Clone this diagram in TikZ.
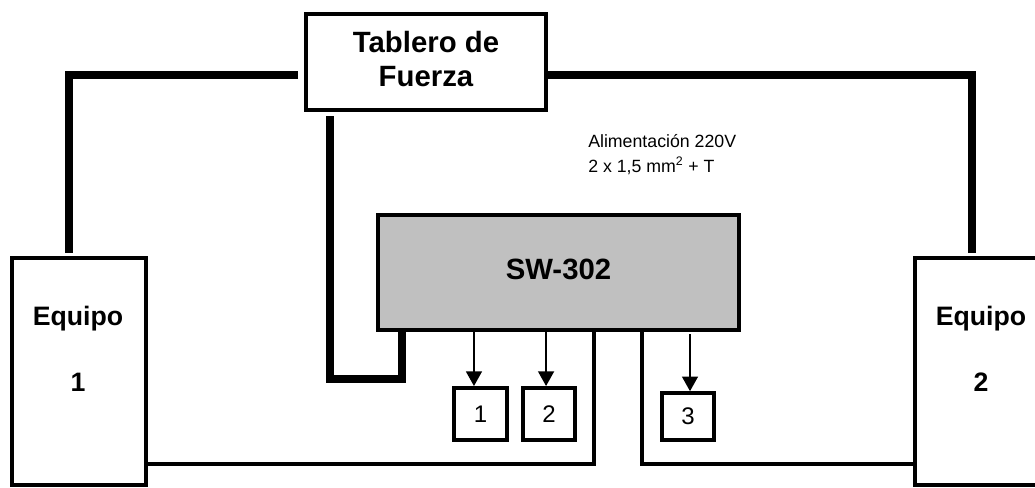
\documentclass[tikz,border=0pt]{standalone}
\usepackage{fontspec}
\setmainfont{Liberation Sans}
\usepackage{tikz}
\usetikzlibrary{positioning,arrows.meta}
\definecolor{swgray}{HTML}{C0C0C0}
\tikzset{
  bigbox/.style={draw=black, line width=3pt, fill=white},
  bigtext/.style={align=center, inner sep=0pt, font=\bfseries\fontsize{22}{25.5}\selectfont},
  equipobox/.style={draw=black, line width=2.7pt, minimum width=100.5pt, minimum height=170pt},
  equipotext/.style={align=center, inner sep=0pt, font=\bfseries\fontsize{20}{24}\selectfont},
  portbox/.style={draw=black, line width=3pt, inner sep=0pt, font=\fontsize{18}{20}\selectfont},
  heavyline/.style={black, line width=6pt},
  wireline/.style={black, line width=2.4pt},
  portarrow/.style={black, line width=1.1pt, -{Triangle[length=11pt,width=12pt]}}
}
\begin{document}
\begin{tikzpicture}[x=0.75pt,y=-0.75pt]
\useasboundingbox (0,0) rectangle (1035,487);
\node[bigbox, minimum width=180pt, minimum height=72pt] (tablero) at (426,62) {};
\node[bigtext] (tablerotext) at ([yshift=2.25pt]tablero.center) {Tablero de\\Fuerza};
\node[bigbox, fill=swgray, minimum width=270.75pt, minimum height=86.25pt] (sw) at (558.5,272.5) {};
\node[bigtext] (swtext) at ([yshift=2.25pt]sw.center) {SW-302};
\node[equipobox] (equipoa) at (79,371.5) {};
\node[equipobox] (equipob) at (982,371.5) {};
\node[equipotext, anchor=north] (equipoatext) at ([xshift=-0.75pt,yshift=-37pt]equipoa.north) {Equipo\\[26pt]1};
\node[equipotext, anchor=north] (equipobtext) at ([xshift=-0.75pt,yshift=-37pt]equipob.north) {Equipo\\[26pt]2};
\node[portbox, minimum width=39.5pt, minimum height=39pt] (porta) at (480.5,414) {1};
\node[portbox, minimum width=39.5pt, minimum height=39pt] (portb) at (549,414) {2};
\node[portbox, minimum width=39.5pt, minimum height=35pt] (portc) at (688,416.5) {3};
\node[anchor=base west, align=left, inner sep=0pt, font=\fontsize{13.3}{18.75}\selectfont] (alim) at (588,172) {Alimentación 220V\\2 x 1,5 mm\textsuperscript{2} + T};
% power lines
\draw[heavyline] ([xshift=-4.5pt,yshift=-9.75pt]tablero.west) -| ([xshift=-7.5pt,yshift=2.25pt]equipoa.north);
\draw[heavyline] ([yshift=-9.75pt]tablero.east) -| ([xshift=-7.5pt,yshift=2.25pt]equipob.north);
\draw[heavyline] ([xshift=-72pt,yshift=-3pt]tablero.south) |- ([xshift=-117.4pt,yshift=-35.6pt]sw.south) -- ([xshift=-117.4pt]sw.south);
% links to equipos
\draw[wireline] ([xshift=26.6pt]sw.south) |- ([yshift=-69.4pt]equipoa.east);
\draw[wireline] ([xshift=62.6pt]sw.south) |- ([yshift=-69.4pt]equipob.west);
% ports
\draw[portarrow] ([xshift=-4.9pt]porta.north |- sw.south) -- ([xshift=-4.9pt]porta.north);
\draw[portarrow] ([xshift=-2.2pt]portb.north |- sw.south) -- ([xshift=-2.2pt]portb.north);
\draw[portarrow] ([xshift=1.5pt,yshift=-1.5pt]portc.north |- sw.south) -- ([xshift=1.5pt]portc.north);
\end{tikzpicture}
\end{document}
